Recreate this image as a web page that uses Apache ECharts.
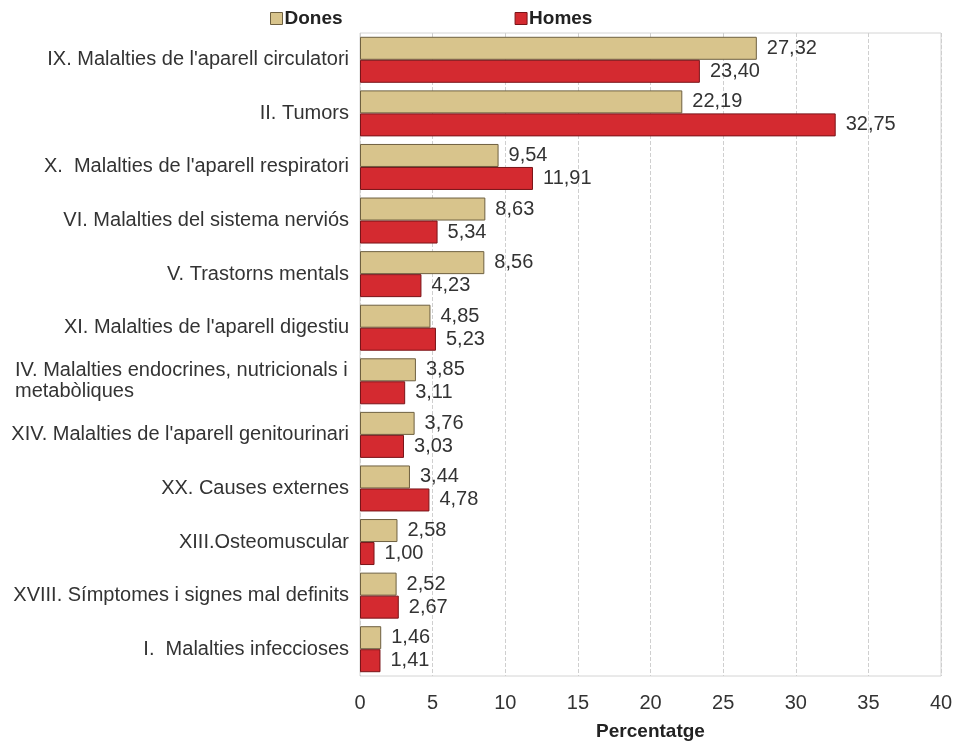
<!DOCTYPE html>
<html>
<head>
<meta charset="utf-8">
<script src="https://cdn.jsdelivr.net/npm/echarts@6/dist/echarts.min.js"></script>
<style>
  html, body { margin: 0; padding: 0; background: #fff; }
  #chart { width: 953px; height: 742px; }
</style>
</head>
<body>
<div id="chart"></div>
<script>
  // categories, top to bottom
  var categories = [
    "IX. Malalties de l'aparell circulatori",
    "II. Tumors",
    "X.  Malalties de l'aparell respiratori",
    "VI. Malalties del sistema nerviós",
    "V. Trastorns mentals",
    "XI. Malalties de l'aparell digestiu",
    "IV. Malalties endocrines, nutricionals i\nmetabòliques",
    "XIV. Malalties de l'aparell genitourinari",
    "XX. Causes externes",
    "XIII.Osteomuscular",
    "XVIII. Símptomes i signes mal definits",
    "I.  Malalties infeccioses"
  ];
  var dones = [27.32, 22.19, 9.54, 8.63, 8.56, 4.85, 3.85, 3.76, 3.44, 2.58, 2.52, 1.46];
  var homes = [23.40, 32.75, 11.91, 5.34, 4.23, 5.23, 3.11, 3.03, 4.78, 1.00, 2.67, 1.41];
  var xTicks = [0, 5, 10, 15, 20, 25, 30, 35, 40];

  var font = "Liberation Sans, Arial, sans-serif";
  var fmt = function (p) { return p.value.toFixed(2).replace(".", ","); };

  var chart = echarts.init(document.getElementById("chart"));
  chart.setOption({
    animation: false,
    legend: {
      left: 265,
      top: 4,
      itemWidth: 12,
      itemHeight: 12,
      itemGap: 172,
      icon: "rect",
      textStyle: { fontFamily: font, fontSize: 19, fontWeight: "bold", color: "#222", padding: [0, 0, 0, -3] },
      data: [
        { name: "Dones", itemStyle: { borderColor: "#6e6040", borderWidth: 1 } },
        { name: "Homes", itemStyle: { borderColor: "#7a1418", borderWidth: 1 } }
      ]
    },
    grid: {
      left: 360, right: 12, top: 33, bottom: 66,
      outerBoundsMode: "none",
      show: true, borderColor: "#d4d4d4", borderWidth: 1
    },
    xAxis: {
      type: "value",
      min: xTicks[0],
      max: xTicks[xTicks.length - 1],
      interval: 5,
      name: "Percentatge",
      nameLocation: "middle",
      nameGap: 46,
      nameTextStyle: { fontFamily: font, fontSize: 19, fontWeight: "bold", color: "#222" },
      axisLine: { show: false },
      axisTick: { show: false },
      axisLabel: { margin: 17, fontFamily: font, fontSize: 20, color: "#333" },
      splitLine: { show: true, lineStyle: { color: "#cfcfcf", type: [4, 2], width: 1 } }
    },
    yAxis: {
      type: "category",
      inverse: true,
      data: categories,
      axisLine: { show: false },
      axisTick: { show: false },
      axisLabel: {
        margin: 11,
        fontFamily: font,
        fontSize: 20,
        color: "#333",
        formatter: function (v) {
          return v.indexOf("\n") >= 0 ? "{l|" + v.replace("\n", "}\n{l|") + "}" : v;
        },
        rich: {
          l: { width: 334, align: "left", fontFamily: font, fontSize: 20, color: "#333", lineHeight: 21 }
        }
      }
    },
    series: [
      {
        name: "Dones",
        type: "bar",
        data: dones,
        barWidth: 23,
        barGap: "0%",
        itemStyle: { color: "#d8c48c", borderColor: "#6e6040", borderWidth: 1 },
        label: { show: true, position: "right", distance: 10, formatter: fmt, fontFamily: font, fontSize: 20, color: "#333" }
      },
      {
        name: "Homes",
        type: "bar",
        data: homes,
        barWidth: 23,
        barGap: "0%",
        itemStyle: { color: "#d42a30", borderColor: "#7a1418", borderWidth: 1 },
        label: { show: true, position: "right", distance: 10, formatter: fmt, fontFamily: font, fontSize: 20, color: "#333" }
      }
    ]
  });
</script>
</body>
</html>
